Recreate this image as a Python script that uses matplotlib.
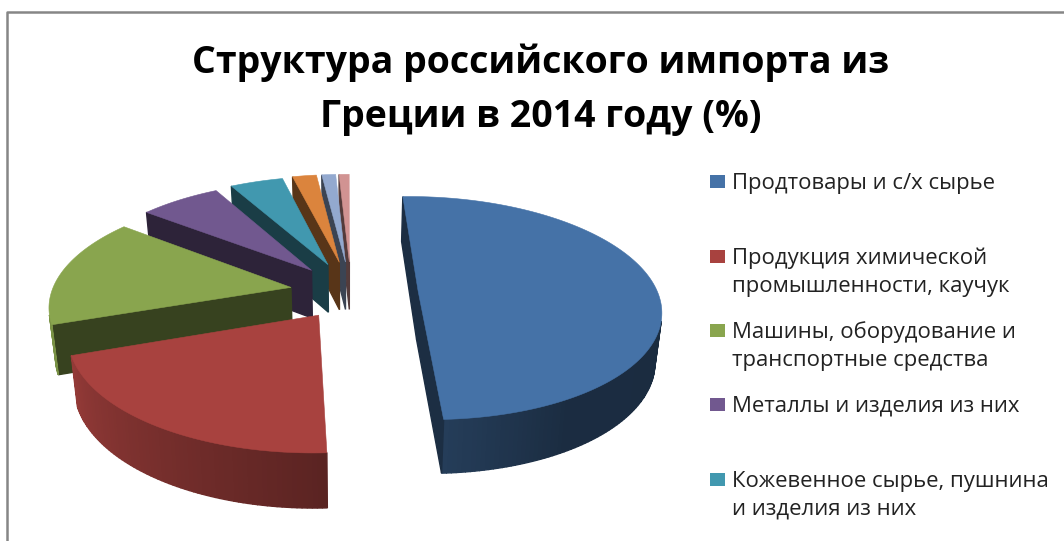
import numpy as np
import matplotlib
matplotlib.use("Agg")
import matplotlib.pyplot as plt
from matplotlib.patches import Polygon, Rectangle

# Данные
labels = [
    "Продтовары и с/х сырье",
    "Продукция химической\nпромышленности, каучук",
    "Машины, оборудование и\nтранспортные средства",
    "Металлы и изделия из них",
    "Кожевенное сырье, пушнина\nи изделия из них",
]
values = [49.5, 20.3, 15.8, 6.4, 4.2, 1.9, 1.1, 0.8]
explode = [0.295, 0.27, 0.24, 0.23, 0.24, 0.25, 0.25, 0.25]
title = "Структура российского импорта из\nГреции в 2014 году (%)"

colors = ["#4572A7", "#A8423F", "#89A54E", "#71588F", "#4198AF", "#DB843D", "#93A9CF", "#D19392"]

plt.rcParams["font.family"] = "Open Sans"

# Параметры перспективы (в пикселях)
VX, Y0 = 348, 288
SX, SY, K = 238, 108, 0.15
START, SWEEP = -1.7, 361.7


def project(x, y):
    w = 1 + K * y
    return VX + SX * x / w, Y0 - SY * y / w


def lower(p):
    # нижняя грань сектора
    return (p[0] - (p[0] - VX) * 0.022, p[1] * 1.04 + 37)


def shade(color, f):
    return tuple(c * f for c in matplotlib.colors.to_rgb(color))


def wall_factor(theta):
    return np.interp(theta, [90, 150, 180, 251, 270], [0.38, 0.39, 0.55, 0.88, 0.9])


fig = plt.figure(figsize=(10.64, 5.41), dpi=100)
ax = fig.add_axes([0, 0, 1, 1])
ax.set_xlim(0, 1064)
ax.set_ylim(541, 0)
ax.axis("off")

# Рамка
ax.plot([7, 7, 1064], [541, 12, 12], color="#868686", lw=1.8)

# Секторы: от последнего к первому
edges = START + np.cumsum([0] + values) / sum(values) * SWEEP
for i in range(len(values) - 1, -1, -1):
    t0, t1 = edges[i], edges[i + 1]
    mid = (t0 + t1) / 2
    mid_r = np.radians(mid - np.interp(mid, [90, 210, 280, 360], [-8, 8, 8, -3]))
    ox, oy = explode[i] * np.sin(mid_r), explode[i] * np.cos(mid_r)
    n = max(int(t1 - t0), 2)
    thetas = np.linspace(t0, t1, n + 1)
    pts = [project(ox, oy)]
    for t in thetas:
        pts.append(project(ox + np.sin(np.radians(t)), oy + np.cos(np.radians(t))))

    # Боковые грани
    m = len(pts)
    for j in range(m):
        a, b = pts[j], pts[(j + 1) % m]
        c, d = lower(b), lower(a)
        q = [a, b, c, d]
        area = sum(q[s][0] * q[(s + 1) % 4][1] - q[(s + 1) % 4][0] * q[s][1] for s in range(4))
        if area >= 0:
            continue
        if j == 0 or j == m - 1:
            f = 0.4
        else:
            f = wall_factor((thetas[j - 1] + thetas[j]) / 2)
        col = shade(colors[i], f)
        ax.add_patch(Polygon(q, closed=True, facecolor=col, edgecolor=col, lw=1.0))

    ax.add_patch(Polygon(pts, closed=True, facecolor=colors[i], edgecolor=colors[i], lw=0.4))

# Заголовок
ax.text(541, 90, title, ha="center", va="center", fontsize=27, fontweight="bold",
        color="black", linespacing=1.55)

# Легенда
legend_y = [183, 272.5, 346, 406, 495.5]
for i in range(len(labels)):
    ax.add_patch(Rectangle((710, legend_y[i] - 8 - (14.5 if "\n" in labels[i] else 0)), 15, 13,
                           facecolor=colors[i], edgecolor="none"))
    ax.text(732, legend_y[i], labels[i], ha="left", va="center", fontsize=15.9,
            color="#222222", linespacing=1.42)

fig.savefig("out.png", dpi=100)
